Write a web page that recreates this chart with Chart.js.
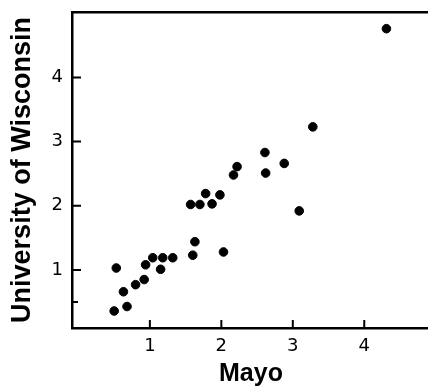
<!DOCTYPE html>
<html>
<head>
<meta charset="utf-8">
<script src="https://cdn.jsdelivr.net/npm/chart.js@4"></script>
<style>
  html, body { margin: 0; padding: 0; background: #fff; overflow: hidden; }
  #wrap { width: 430px; height: 387px; }
</style>
</head>
<body>
<div id="wrap"><canvas id="scatterChart"></canvas></div>
<script>
// Mayo vs University of Wisconsin readings
const mayo = [0.50, 0.53, 0.63, 0.68, 0.80, 0.92, 0.94, 1.04, 1.15, 1.18, 1.32,
              1.57, 1.60, 1.63, 1.70, 1.78, 1.87, 1.98, 2.03, 2.17, 2.22,
              2.61, 2.62, 2.88, 3.09, 3.28, 4.31];
const wisconsin = [0.36, 1.03, 0.66, 0.43, 0.77, 0.85, 1.08, 1.19, 1.01, 1.19, 1.19,
                   2.02, 1.23, 1.44, 2.02, 2.19, 2.03, 2.17, 1.28, 2.48, 2.61,
                   2.83, 2.51, 2.66, 1.92, 3.23, 4.76];
const xTicks = [1, 2, 3, 4];
const yTicks = [1, 2, 3, 4];
const yMinorTicks = [0.5];

// tick marks point into the plot, like the original figure
const inwardTicks = {
    id: 'inwardTicks',
    afterDraw(chart) {
        const { ctx, chartArea, scales } = chart;
        ctx.save();
        ctx.strokeStyle = '#000';
        ctx.lineWidth = 2;
        ctx.beginPath();
        xTicks.forEach(v => {
            const px = scales.x.getPixelForValue(v);
            ctx.moveTo(px, chartArea.bottom);
            ctx.lineTo(px, chartArea.bottom - 8);
        });
        yTicks.forEach(v => {
            const py = scales.y.getPixelForValue(v);
            ctx.moveTo(chartArea.left, py);
            ctx.lineTo(chartArea.left + 9, py);
        });
        yMinorTicks.forEach(v => {
            const py = scales.y.getPixelForValue(v);
            ctx.moveTo(chartArea.left, py);
            ctx.lineTo(chartArea.left + 6, py);
        });
        ctx.stroke();
        ctx.restore();
    }
};

function createScatterChart() {
    const points = mayo.map((x, i) => ({ x: x, y: wisconsin[i] }));
    const ctx = document.getElementById('scatterChart').getContext('2d');

    new Chart(ctx, {
        type: 'scatter',
        data: {
            datasets: [{
                data: points,
                backgroundColor: '#000',
                borderColor: '#000',
                pointRadius: 4.3,
                pointHoverRadius: 4.3
            }]
        },
        plugins: [inwardTicks],
        options: {
            responsive: true,
            maintainAspectRatio: false,
            animation: false,
            layout: { autoPadding: false, padding: { top: 12, right: 0, left: 0, bottom: 0 } },
            plugins: { legend: { display: false }, tooltip: { enabled: false } },
            scales: {
                x: {
                    type: 'linear',
                    min: -0.09,
                    max: 4.92,
                    afterBuildTicks: scale => { scale.ticks = xTicks.map(v => ({ value: v })); },
                    afterFit: scale => {
                        scale.height = 59;
                        scale.paddingLeft = 0;
                        scale.paddingRight = 0;
                    },
                    border: { display: true, color: '#000', width: 2.5 },
                    grid: { drawOnChartArea: false, drawTicks: false },
                    ticks: { color: '#000', padding: 8, font: { family: 'DejaVu Sans', size: 18 } },
                    title: {
                        display: true,
                        text: 'Mayo',
                        color: '#000',
                        padding: { top: 0, bottom: 0 },
                        font: { family: 'Liberation Sans', size: 25, weight: 'bold', lineHeight: 1 }
                    }
                },
                x2: {
                    type: 'linear',
                    position: 'top',
                    min: -0.09,
                    max: 4.92,
                    afterFit: scale => {
                        scale.height = 0;
                        scale.paddingLeft = 0;
                        scale.paddingRight = 0;
                    },
                    border: { display: true, color: '#000', width: 2.5 },
                    grid: { display: true, drawOnChartArea: false, drawTicks: false },
                    ticks: { display: false }
                },
                y: {
                    type: 'linear',
                    min: 0.095,
                    max: 5.02,
                    afterBuildTicks: scale => { scale.ticks = yTicks.map(v => ({ value: v })); },
                    afterFit: scale => {
                        scale.width = 72;
                        scale.paddingTop = 0;
                        scale.paddingBottom = 0;
                    },
                    border: { display: true, color: '#000', width: 2.5 },
                    grid: { drawOnChartArea: false, drawTicks: false },
                    ticks: { color: '#000', padding: 9, font: { family: 'DejaVu Sans', size: 18 } },
                    title: {
                        display: true,
                        text: 'University of Wisconsin',
                        color: '#000',
                        padding: { top: 6, bottom: 0 },
                        font: { family: 'Liberation Sans', size: 27, weight: 'bold', lineHeight: 1.2 }
                    }
                }
            }
        }
    });
}

window.onload = function() {
    createScatterChart();
};
</script>
</body>
</html>
